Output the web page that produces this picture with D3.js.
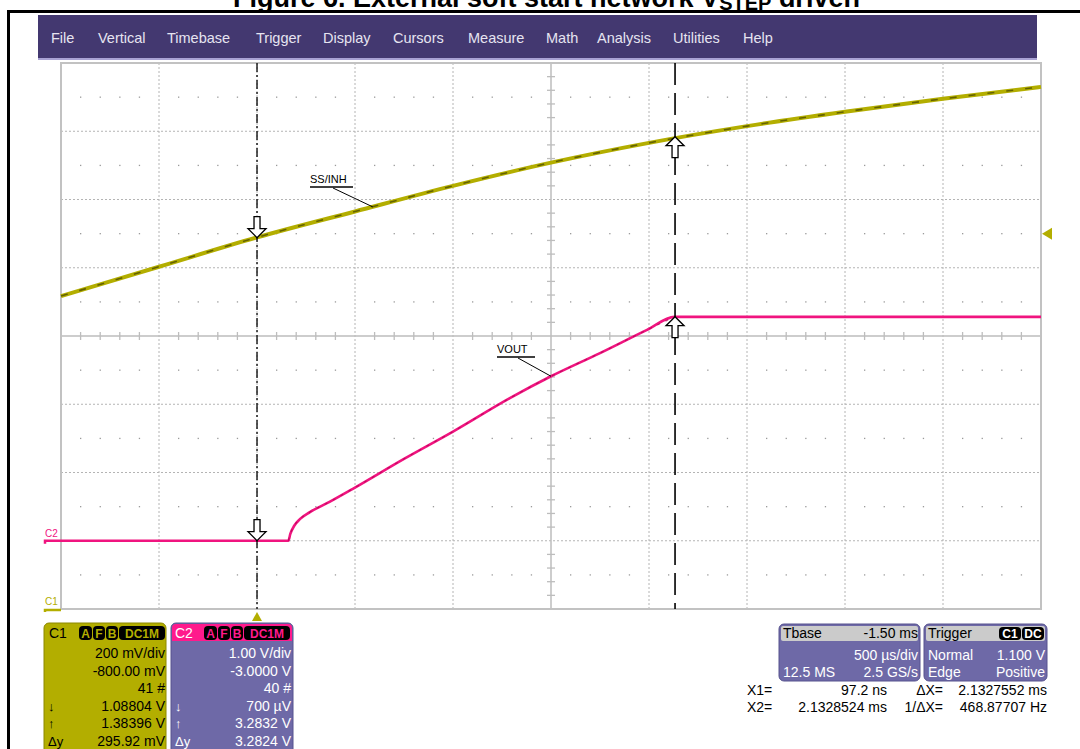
<!DOCTYPE html>
<html><head><meta charset="utf-8">
<script src="https://cdn.jsdelivr.net/npm/d3@7"></script>
<style>
html,body{margin:0;padding:0;background:#fff;}
svg{display:block;font-family:"Liberation Sans",Arial,sans-serif;}
</style></head>
<body>
<svg id="chart" width="1080" height="749"></svg>
<script>
// ---------------- data ----------------
const menuItems = ["File","Vertical","Timebase","Trigger","Display","Cursors","Measure","Math","Analysis","Utilities","Help"];
const menuX = [51,98,167,256,323,393,468,546,597,673,743];

// C1 (SS/INH), time in ms, volts
const c1Times = [-1.0,-0.5,0.0,0.5,1.0,1.5,2.0,2.5,3.0,3.5,4.0];
const c1Volts = [0.917,1.003,1.089,1.165,1.240,1.308,1.366,1.415,1.457,1.495,1.530];
// C2 (VOUT)
const c2Times = [-1.0,0.16,0.17,0.19,0.22,0.27,0.37,0.5,0.75,1.0,1.29,1.5,1.75,1.99,2.13,4.0];
const c2Volts = [0,0,0.10,0.22,0.32,0.42,0.57,0.78,1.20,1.60,2.09,2.41,2.75,3.09,3.28,3.28];

const timeDomain = [-1.0, 4.0];      // 500 us/div, 10 div
const c1Domain = [0, 1.6];           // 200 mV/div, offset -800 mV
const c2Domain = [-1, 7];            // 1 V/div, offset -3 V
const cursorTimes = [0.0000972, 2.1328524];
const triggerLevel = 1.100;

const c1Rows = [["","200 mV/div"],["","-800.00 mV"],["","41 #"],["\u2193","1.08804 V"],["\u2191","1.38396 V"],["\u0394y","295.92 mV"]];
const c2Rows = [["","1.00 V/div"],["","-3.0000 V"],["","40 #"],["\u2193","700 \u00b5V"],["\u2191","3.2832 V"],["\u0394y","3.2824 V"]];
const badges = ["A","F","B","DC1M"];
const tbaseRows = [["Tbase","-1.50 ms"],["","500 \u00b5s/div"],["12.5 MS","2.5 GS/s"]];
const trigRows = [["Trigger",""],["Normal","1.100 V"],["Edge","Positive"]];
const cursorReadout = [["X1=","97.2 ns","\u0394X=","2.1327552 ms"],["X2=","2.1328524 ms","1/\u0394X=","468.87707 Hz"]];

// ---------------- layout ----------------
const svg = d3.select("#chart");
const L=61, R=1041, T=63, B=609;
const x = d3.scaleLinear().domain(timeDomain).range([L,R]);
const y1 = d3.scaleLinear().domain(c1Domain).range([B,T]);
const y2 = d3.scaleLinear().domain(c2Domain).range([B,T]);
const C1COL="#b3ae00", C1DARK="#4a4800", C2COL="#f0147f", PURP="#6e69a7";

// frame + title (title is cropped at the top edge, as in the source figure)
svg.append("rect").attr("x",7).attr("y",10).attr("width",1073).attr("height",3).attr("fill","#000");
svg.append("rect").attr("x",7).attr("y",10).attr("width",3).attr("height",739).attr("fill","#000");
const title = svg.append("text").attr("x",233).attr("y",7).attr("font-size",27).attr("font-weight","bold").attr("fill","#000");
title.append("tspan").text("Figure 6. External soft start network V");
title.append("tspan").attr("dy",3).attr("font-size",20).text("STEP");
title.append("tspan").attr("dy",-3).text(" driven");

// menu bar
svg.append("rect").attr("x",38).attr("y",15).attr("width",999).attr("height",44).attr("fill","#433870");
svg.append("rect").attr("x",38).attr("y",58).attr("width",999).attr("height",2).attr("fill","#a9a2d4");
svg.selectAll("text.menu").data(menuItems).join("text").attr("class","menu")
  .attr("x",(d,i)=>menuX[i]).attr("y",43).attr("font-size",14.5).attr("fill","#e6e4f0").text(d=>d);

// plot area
svg.append("rect").attr("x",L).attr("y",T).attr("width",R-L).attr("height",B-T).attr("fill","#fff");
const g = svg.append("g");
const divX = d3.range(0,11).map(i=>timeDomain[0]+i*0.5);
const divY = d3.range(0,9).map(i=>c1Domain[0]+i*0.2);
// dotted grid
g.selectAll("line.gx").data(divX.filter((d,i)=>i>0&&i<10&&i!==5)).join("line")
  .attr("x1",d=>x(d)).attr("x2",d=>x(d)).attr("y1",T).attr("y2",B)
  .attr("stroke","#b4b4b4").attr("stroke-dasharray","2,2");
g.selectAll("line.gy").data(divY.filter((d,i)=>i>0&&i<8&&i!==4)).join("line")
  .attr("y1",d=>y1(d)).attr("y2",d=>y1(d)).attr("x1",L).attr("x2",R)
  .attr("stroke","#b4b4b4").attr("stroke-dasharray","2,2");
// minor dots on half-division rows
const halfRows = d3.range(0,8).map(i=>c1Domain[0]+0.1+i*0.2);
const dotXs = d3.range(1,50).filter(i=>i%5!==0).map(i=>timeDomain[0]+i*0.1);
halfRows.forEach(v=>{
  g.selectAll(null).data(dotXs).join("rect")
    .attr("x",d=>x(d)-0.6).attr("y",y1(v)-0.6).attr("width",1.3).attr("height",1.3).attr("fill","#9a9a9a");
});
// center axes with ticks
const cx = x(1.5), cy = y1(0.8);
g.append("line").attr("x1",cx).attr("x2",cx).attr("y1",T).attr("y2",B).attr("stroke","#bdbdbd").attr("stroke-width",1.5);
g.append("line").attr("x1",L).attr("x2",R).attr("y1",cy).attr("y2",cy).attr("stroke","#bdbdbd").attr("stroke-width",1.5);
g.selectAll(null).data(d3.range(1,50).filter(i=>i%5!==0).map(i=>timeDomain[0]+i*0.1)).join("line")
  .attr("x1",d=>x(d)).attr("x2",d=>x(d)).attr("y1",cy-4).attr("y2",cy+4).attr("stroke","#bdbdbd").attr("stroke-width",1.3);
g.selectAll(null).data(d3.range(1,40).filter(i=>i%5!==0).map(i=>c1Domain[0]+i*0.04)).join("line")
  .attr("y1",d=>y1(d)).attr("y2",d=>y1(d)).attr("x1",cx-4).attr("x2",cx+4).attr("stroke","#bdbdbd").attr("stroke-width",1.3);
// border
svg.append("rect").attr("x",L).attr("y",T).attr("width",R-L).attr("height",B-T)
  .attr("fill","none").attr("stroke","#c2c2c2").attr("stroke-width",2);

// traces
const c1Data = c1Times.map((t,i)=>[t,c1Volts[i]]);
const c2Data = c2Times.map((t,i)=>[t,c2Volts[i]]);
const line1 = d3.line().x(d=>x(d[0])).y(d=>y1(d[1])).curve(d3.curveMonotoneX);
const line2 = d3.line().x(d=>x(d[0])).y(d=>y2(d[1])).curve(d3.curveMonotoneX);
svg.append("path").attr("d",line1(c1Data)).attr("fill","none").attr("stroke",C1COL).attr("stroke-width",4);
svg.append("path").attr("d",line1(c1Data)).attr("fill","none").attr("stroke",C1DARK).attr("stroke-opacity",0.75)
  .attr("stroke-width",1.6).attr("stroke-dasharray","7,12");
svg.append("path").attr("d",line2(c2Data)).attr("fill","none").attr("stroke",C2COL).attr("stroke-width",2.6);
svg.append("path").attr("d",line2(c2Data.filter(d=>d[0]>0.15&&d[0]<2.2))).attr("fill","none").attr("stroke","#a8004e")
  .attr("stroke-opacity",0.6).attr("stroke-width",1.2).attr("stroke-dasharray","3,6");

// cursors
svg.append("line").attr("x1",x(cursorTimes[0])).attr("x2",x(cursorTimes[0])).attr("y1",T).attr("y2",B)
  .attr("stroke","#000").attr("stroke-width",1.3).attr("stroke-dasharray","9,3,2,3");
svg.append("line").attr("x1",x(cursorTimes[1])).attr("x2",x(cursorTimes[1])).attr("y1",T).attr("y2",B)
  .attr("stroke","#000").attr("stroke-width",1.6).attr("stroke-dasharray","22,8");

function interp(data,t){ // value on recorded trace at a time (linear between readings)
  for(let i=1;i<data.length;i++){ if(t<=data[i][0]){const a=data[i-1],b=data[i];return a[1]+(b[1]-a[1])*(t-a[0])/(b[0]-a[0]);}}
  return data[data.length-1][1];
}
const downArrow="M0,0 L-9,-9 L-3,-9 L-3,-21 L3,-21 L3,-9 L9,-9 Z";
const upArrow="M0,0 L-9,9 L-3,9 L-3,21 L3,21 L3,9 L9,9 Z";
function arrow(px,py,d){svg.append("path").attr("d",d).attr("transform",`translate(${px},${py})`)
  .attr("fill","#fff").attr("stroke","#000").attr("stroke-width",1.3);}
arrow(x(cursorTimes[0]), y1(1.08804), downArrow);
arrow(x(cursorTimes[0]), y2(0.0007), downArrow);
arrow(x(cursorTimes[1]), y1(1.38396), upArrow);
arrow(x(cursorTimes[1]), y2(3.2832), upArrow);

// trace labels
function leader(lbl,tx,ty,w,lx,ly,t,v,yS){
  svg.append("text").attr("x",tx).attr("y",ty).attr("font-size",11).attr("fill","#000").text(lbl);
  svg.append("line").attr("x1",tx).attr("x2",tx+w).attr("y1",ty+4).attr("y2",ty+4).attr("stroke","#000").attr("stroke-width",1.5);
  svg.append("line").attr("x1",lx).attr("y1",ly).attr("x2",x(t)).attr("y2",yS(v)).attr("stroke","#000").attr("stroke-width",1);
}
leader("SS/INH",310,183,43,333,188,0.59,interp(c1Data,0.59),y1);
leader("VOUT",497,353,38,518,358,1.5,interp(c2Data,1.5),y2);

// ground markers
svg.append("text").attr("x",45).attr("y",537).attr("font-size",10).attr("fill",C2COL).text("C2");
svg.append("path").attr("d",`M45,${y2(0)+3} L45,${y2(0)} L${L},${y2(0)}`).attr("fill","none").attr("stroke",C2COL).attr("stroke-width",2.5);
svg.append("text").attr("x",45).attr("y",605).attr("font-size",10).attr("fill",C1COL).text("C1");
svg.append("path").attr("d",`M45,${y1(0)+3} L45,${y1(0)+1} L${L},${y1(0)+1}`).attr("fill","none").attr("stroke",C1COL).attr("stroke-width",2.5);
// trigger markers
const tx0=x(0);
svg.append("path").attr("d",`M${tx0},612 L${tx0-5},621 L${tx0+5},621 Z`).attr("fill",C1COL);
const ty0=y1(triggerLevel);
svg.append("path").attr("d",`M1042,${ty0} L1052,${ty0-6} L1052,${ty0+6} Z`).attr("fill",C1COL);

// channel boxes
function badgeRow(bx,by,txtCol){
  const widths=[13,12,12,46]; let xx=bx;
  badges.forEach((b,i)=>{
    svg.append("rect").attr("x",xx).attr("y",by).attr("width",widths[i]).attr("height",14).attr("rx",4).attr("fill","#000");
    svg.append("text").attr("x",xx+widths[i]/2).attr("y",by+11.5).attr("text-anchor","middle").attr("font-size",12)
      .attr("font-weight","bold").attr("fill",txtCol).text(b);
    xx+=widths[i]+1;
  });
}
// C1
svg.append("rect").attr("x",44).attr("y",623).attr("width",122).attr("height",140).attr("rx",5)
  .attr("fill",C1COL).attr("stroke","#8c8800").attr("stroke-width",1);
svg.append("text").attr("x",49).attr("y",638).attr("font-size",14).attr("fill","#000").text("C1");
badgeRow(79,626,C1COL);
c1Rows.forEach((r,i)=>{
  const yy=658+i*17.6;
  if(r[0]) svg.append("text").attr("x",48).attr("y",yy).attr("font-size",13).attr("fill","#000").text(r[0]);
  svg.append("text").attr("x",165).attr("y",yy).attr("text-anchor","end").attr("font-size",14).attr("fill","#000").text(r[1]);
});
// C2
svg.append("rect").attr("x",171).attr("y",623).attr("width",122).attr("height",140).attr("rx",5)
  .attr("fill",PURP).attr("stroke","#56528e").attr("stroke-width",1);
svg.append("path").attr("d","M172,641 L172,628 Q172,624 176,624 L288,624 Q292,624 292,628 L292,641 Z").attr("fill","#ff1a8c");
svg.append("text").attr("x",175).attr("y",638).attr("font-size",14).attr("fill","#fff").text("C2");
badgeRow(204,626,"#ff1a8c");
c2Rows.forEach((r,i)=>{
  const yy=658+i*17.6;
  if(r[0]) svg.append("text").attr("x",175).attr("y",yy).attr("font-size",13).attr("fill","#fff").text(r[0]);
  svg.append("text").attr("x",291).attr("y",yy).attr("text-anchor","end").attr("font-size",14).attr("fill","#fff").text(r[1]);
});

// Tbase & Trigger
function infoBox(bx,w,rows,hdrBadges){
  svg.append("rect").attr("x",bx).attr("y",624).attr("width",w).attr("height",57).attr("rx",5)
    .attr("fill",PURP).attr("stroke","#56528e").attr("stroke-width",1);
  svg.append("rect").attr("x",bx+2).attr("y",626).attr("width",w-4).attr("height",15).attr("rx",2).attr("fill","#cbcbcb");
  rows.forEach((r,i)=>{
    const yy=[638,660,677][i]; const col=i===0?"#000":"#fff";
    if(r[0]) svg.append("text").attr("x",bx+4).attr("y",yy).attr("font-size",14).attr("fill",col).text(r[0]);
    if(r[1]) svg.append("text").attr("x",bx+w-2).attr("y",yy).attr("text-anchor","end").attr("font-size",14).attr("fill",col).text(r[1]);
  });
  if(hdrBadges){
    let xx=bx+w-3;
    hdrBadges.slice().reverse().forEach(b=>{
      const bw=b.length*9+4; xx-=bw;
      svg.append("rect").attr("x",xx).attr("y",627).attr("width",bw).attr("height",13).attr("rx",4).attr("fill","#000");
      svg.append("text").attr("x",xx+bw/2).attr("y",638).attr("text-anchor","middle").attr("font-size",12).attr("font-weight","bold").attr("fill","#fff").text(b);
      xx-=1;
    });
  }
}
infoBox(779,141,tbaseRows,null);
infoBox(924,123,trigRows,["C1","DC"]);

cursorReadout.forEach((r,i)=>{
  const yy=695+i*17;
  svg.append("text").attr("x",747).attr("y",yy).attr("font-size",14).text(r[0]);
  svg.append("text").attr("x",887).attr("y",yy).attr("text-anchor","end").attr("font-size",14).text(r[1]);
  svg.append("text").attr("x",943).attr("y",yy).attr("text-anchor","end").attr("font-size",14).text(r[2]);
  svg.append("text").attr("x",1047).attr("y",yy).attr("text-anchor","end").attr("font-size",14).text(r[3]);
});
</script>
</body></html>
